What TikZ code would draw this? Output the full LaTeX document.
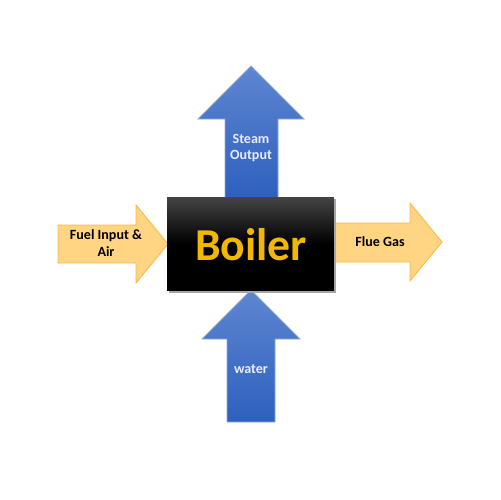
\documentclass[tikz,border=0pt]{standalone}
\usepackage{fontspec}
\setmainfont{Carlito}
\usetikzlibrary{positioning}

\definecolor{steamtop}{RGB}{94,134,208}
\definecolor{steambot}{RGB}{46,96,190}
\definecolor{steamline}{RGB}{143,170,220}
\definecolor{fuelfill}{RGB}{255,212,130}
\definecolor{fuelline}{RGB}{247,186,70}
\definecolor{boilergold}{RGB}{242,184,0}
\definecolor{boilertop}{RGB}{68,68,68}

\tikzset{
  bluearrow/.style={draw=steamline, line width=0.5pt, top color=steamtop, bottom color=steambot},
  orangearrow/.style={draw=fuelline, line width=0.5pt, fill=fuelfill},
  bluetext/.style={text=white!92!blue, font=\bfseries\fontsize{8}{9.6}\selectfont, align=center},
  orangetext/.style={text=black, font=\bfseries\fontsize{8}{9.6}\selectfont, align=center}
}

\begin{document}
\begin{tikzpicture}[x=0.02cm, y=-0.02cm]
%%%%%%%%%%%%%%%%%%%%%%%%%%%%%%%%%%%%%%%%%%% HELP LINES
%\draw[help lines, step=50] (0,0) grid (500,500);
\useasboundingbox (0,0) rectangle (500,500);

%%%%%%%%%%%%%%%%%%%%%%%%%%%%%%%%%%%%%%%%%%% arrows
% steam output
\draw[bluearrow] (225,198) -- (225,119) -- (198,119) -- (251,66) -- (304,119) -- (278,119) -- (278,198) -- cycle;
% water
\draw[bluearrow] (227,422) -- (227,339) -- (202,339) -- (251,290) -- (300,339) -- (275,339) -- (275,422) -- cycle;
% fuel input
\draw[orangearrow] (58,225) -- (136,225) -- (136,205) -- (168,244) -- (136,283) -- (136,263) -- (58,263) -- cycle;
% flue gas
\draw[orangearrow] (333,223) -- (410,223) -- (410,203) -- (442,242) -- (410,281) -- (410,262) -- (333,262) -- cycle;

%%%%%%%%%%%%%%%%%%%%%%%%%%%%%%%%%%%%%%%%%%% boiler
\fill[black!35] (169,199) rectangle (336,293);
\node[shape=rectangle, draw=none, top color=boilertop, bottom color=black, middle color=black,
      minimum width=3.34cm, minimum height=1.88cm, inner sep=0pt](boiler) at (250.5,244) {};
\node[text=boilergold, font=\bfseries\fontsize{26}{30}\selectfont](boilerlabel) at (251,245) {Boiler};

%%%%% labels
\node[bluetext](steam) at (251,148) {Steam\\Output};
\node[bluetext](water) at (251,369) {water};
\node[orangetext](fuel) at (106,243) {Fuel Input \&\\Air};
\node[orangetext](flue) at (380,242) {Flue Gas};
\end{tikzpicture}
\end{document}
